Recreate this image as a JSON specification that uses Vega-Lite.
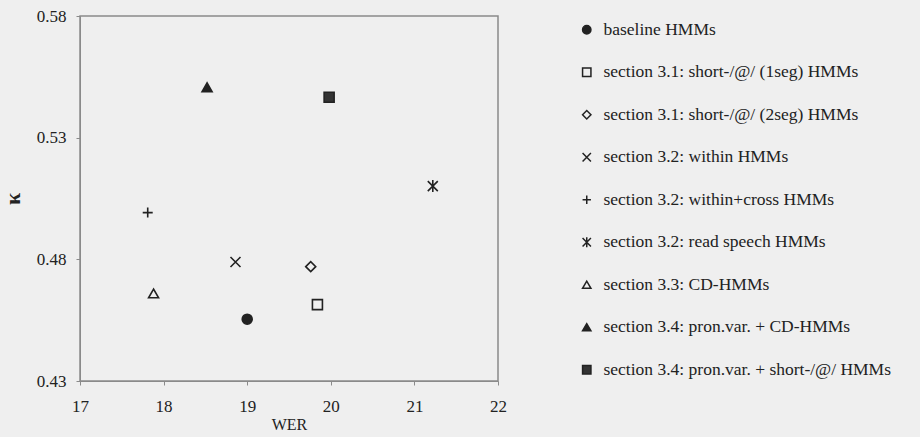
{
  "$schema": "https://vega.github.io/schema/vega-lite/v6.json",
  "width": 418,
  "height": 365,
  "autosize": "none",
  "padding": {"left": 80, "top": 16, "right": 422, "bottom": 56},
  "background": "#efefef",
  "config": {
    "view": {"stroke": "#8a8a8a", "strokeWidth": 1.5},
    "font": "Liberation Serif",
    "axis": {"labelFont": "Liberation Serif", "titleFont": "Liberation Serif", "labelColor": "#222", "titleColor": "#222", "titleFontWeight": "normal", "domainColor": "#8a8a8a", "tickColor": "#8a8a8a", "tickSize": 4, "grid": false, "labelFontSize": 17, "titleFontSize": 16, "labelFlush": false},
    "legend": {"labelFont": "Liberation Serif", "labelFontSize": 17.5, "labelColor": "#222", "labelLimit": 500}
  },
  "data": {
    "values": [
      {"series": "baseline HMMs", "WER": 19.0, "kappa": 0.4554},
      {"series": "section 3.1: short-/@/ (1seg) HMMs", "WER": 19.84, "kappa": 0.4614},
      {"series": "section 3.1: short-/@/ (2seg) HMMs", "WER": 19.76, "kappa": 0.477},
      {"series": "section 3.2: within  HMMs", "WER": 18.86, "kappa": 0.4789},
      {"series": "section 3.2: within+cross HMMs", "WER": 17.81, "kappa": 0.4992},
      {"series": "section 3.2: read speech HMMs", "WER": 21.22, "kappa": 0.5101},
      {"series": "section 3.3: CD-HMMs", "WER": 17.88, "kappa": 0.466},
      {"series": "section 3.4: pron.var. + CD-HMMs", "WER": 18.52, "kappa": 0.5507},
      {"series": "section 3.4: pron.var. + short-/@/  HMMs", "WER": 19.98, "kappa": 0.5466}
    ]
  },
  "mark": {"type": "point", "strokeWidth": 1.6, "opacity": 1},
  "encoding": {
    "x": {"field": "WER", "type": "quantitative", "scale": {"domain": [17, 22], "nice": false, "zero": false}, "axis": {"values": [17, 18, 19, 20, 21, 22], "format": "d", "labelPadding": 13, "title": "WER", "titlePadding": 2}},
    "y": {"field": "kappa", "type": "quantitative", "scale": {"domain": [0.43, 0.58], "nice": false, "zero": false}, "axis": {"values": [0.43, 0.48, 0.53, 0.58], "format": ".2f", "labelPadding": 10, "title": "κ", "titleFontSize": 22, "titleFontWeight": "bold", "titlePadding": 12}},
    "shape": {"field": "series", "type": "nominal", "scale": {
      "domain": ["baseline HMMs", "section 3.1: short-/@/ (1seg) HMMs", "section 3.1: short-/@/ (2seg) HMMs", "section 3.2: within  HMMs", "section 3.2: within+cross HMMs", "section 3.2: read speech HMMs", "section 3.3: CD-HMMs", "section 3.4: pron.var. + CD-HMMs", "section 3.4: pron.var. + short-/@/  HMMs"],
      "range": ["circle", "square", "diamond", "M-1,-1L1,1M-1,1L1,-1", "M-1,0L1,0M0,-1L0,1", "M-1,-1L1,1M-1,1L1,-1M0,-1.2L0,1.2", "triangle-up", "triangle-up", "square"]},
      "legend": {"title": null, "orient": "none", "legendX": 498, "legendY": 5, "padding": 0, "rowPadding": 23.5, "symbolSize": 70, "labelOffset": 8,
        "encode": {"symbols": {"update": {"stroke": {"value": "#222222"}, "strokeWidth": {"value": 1.5}}}}}},
    "fill": {"field": "series", "type": "nominal", "scale": {
      "domain": ["baseline HMMs", "section 3.1: short-/@/ (1seg) HMMs", "section 3.1: short-/@/ (2seg) HMMs", "section 3.2: within  HMMs", "section 3.2: within+cross HMMs", "section 3.2: read speech HMMs", "section 3.3: CD-HMMs", "section 3.4: pron.var. + CD-HMMs", "section 3.4: pron.var. + short-/@/  HMMs"],
      "range": ["#222222", "transparent", "transparent", "transparent", "transparent", "transparent", "transparent", "#222222", "#333333"]},
      "legend": {"title": null}},
    "stroke": {"value": "#222222"},
    "size": {"value": 100}
  }
}
